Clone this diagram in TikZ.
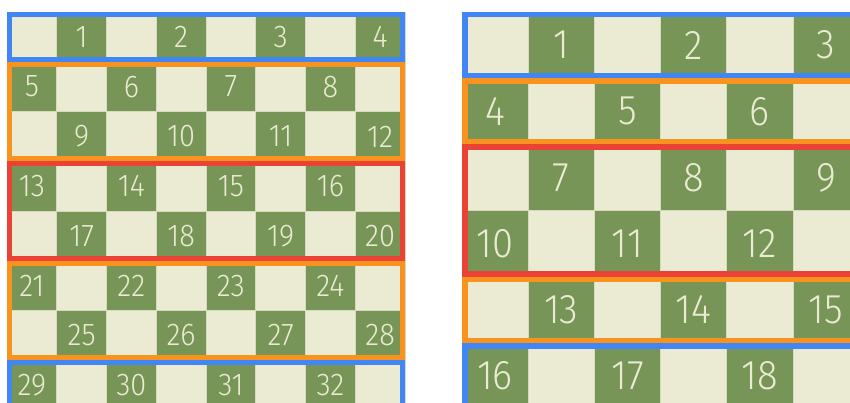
\documentclass[tikz,border=0pt]{standalone}
\usepackage{fontspec}
\newfontfamily\numfont[FakeStretch=0.92]{Fira Sans Light}

\definecolor{sqdark}{HTML}{779556}
\definecolor{sqlight}{HTML}{EBEBD3}
\definecolor{gridln}{HTML}{D6DBBE}
\definecolor{bandblue}{HTML}{4285F4}
\definecolor{bandorange}{HTML}{F7931E}
\definecolor{bandred}{HTML}{EA4335}

\tikzset{
  sq/.style={draw=gridln, line width=0.7pt},
  numL/.style={font=\numfont\fontsize{31.5}{31.5}\selectfont, text=sqlight, inner sep=0pt},
  numR/.style={font=\numfont\fontsize{41.5}{41.5}\selectfont, text=sqlight, inner sep=0pt}
}

\begin{document}
\begin{tikzpicture}[x=1pt,y=-1pt]
\useasboundingbox (0,0) rectangle (850,403);
\clip (0,0) rectangle (850,403);
% left board, 8 by 8
\foreach \r in {0,...,7}{
  \foreach \c in {0,...,7}{
    \pgfmathtruncatemacro\dk{mod(\r+\c,2)}
    \ifnum\dk=1
      \filldraw[sq, fill=sqdark] ({7+\c*49.75},{12+\r*49.75}) rectangle +(49.75,49.75);
      \pgfmathtruncatemacro\n{\r*4+floor(\c/2)+1}
      \node[numL] (L\n) at ({7+(\c+0.5)*49.75},{12+(\r+0.5)*49.75}) {\n};
    \else
      \filldraw[sq, fill=sqlight] ({7+\c*49.75},{12+\r*49.75}) rectangle +(49.75,49.75);
    \fi
  }
}
\draw[bandblue, line width=5pt] (9.5,14.5) rectangle (402.5,59.25);
\draw[bandorange, line width=5pt] (9.5,64.25) rectangle (402.5,158.75);
\draw[bandred, line width=5pt] (9.5,163.75) rectangle (402.5,258.25);
\draw[bandorange, line width=5pt] (9.5,263.25) rectangle (402.5,357.75);
\draw[bandblue, line width=5pt] (9.5,362.75) rectangle (402.5,407.5);
% right board, 6 by 6
\foreach \r in {0,...,5}{
  \foreach \c in {0,...,5}{
    \pgfmathtruncatemacro\dk{mod(\r+\c,2)}
    \ifnum\dk=1
      \filldraw[sq, fill=sqdark] ({462+\c*66.2},{12+\r*66.2}) rectangle +(66.2,66.2);
      \pgfmathtruncatemacro\n{\r*3+floor(\c/2)+1}
      \node[numR] (R\n) at ({462+(\c+0.5)*66.2},{12+(\r+0.5)*66.2}) {\n};
    \else
      \filldraw[sq, fill=sqlight] ({462+\c*66.2},{12+\r*66.2}) rectangle +(66.2,66.2);
    \fi
  }
}
\draw[bandblue, line width=5.5pt] (464.75,14.75) rectangle (856.45,75.45);
\draw[bandorange, line width=5.5pt] (464.75,80.95) rectangle (856.45,141.65);
\draw[bandred, line width=5.5pt] (464.75,147.15) rectangle (856.45,274.05);
\draw[bandorange, line width=5.5pt] (464.75,279.55) rectangle (856.45,340.25);
\draw[bandblue, line width=5.5pt] (464.75,345.75) rectangle (856.45,406.45);
\end{tikzpicture}
\end{document}
